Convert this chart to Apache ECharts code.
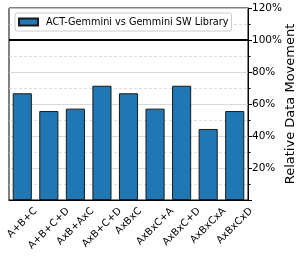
<!DOCTYPE html>
<html>
<head>
<meta charset="utf-8">
<script src="https://cdn.jsdelivr.net/npm/echarts@6/dist/echarts.min.js"></script>
<style>html,body{margin:0;padding:0;background:#fff;}#c{width:301px;height:258px;}</style>
</head>
<body>
<div id="c"></div>
<script>
const categories = ['A+B+C','A+B+C+D','AxB+AxC','AxB+C+D','AxBxC','AxBxC+A','AxBxC+D','AxBxCxA','AxBxCxD'];
const seriesName = 'ACT-Gemmini vs Gemmini SW Library';
const values = [66.7, 55.6, 57.1, 71.4, 66.7, 57.1, 71.4, 44.4, 55.6];
const refValue = 100;
const yTicks = [0, 20, 40, 60, 80, 100, 120];

const font = 'DejaVu Sans';
const xFontSize = 10;
const xMargin = 2;
const xLineHeight = 10;
// Centre each 45°-rotated label under its tick (matplotlib-style), top of text ~7px below the axis.
const ctx = document.createElement('canvas').getContext('2d');
ctx.font = xFontSize + 'px "' + font + '"';
const xData = categories.map(c => {
  const L = ctx.measureText(c).width;
  const D = 7 + 0.3535 * (L + 0.73 * xFontSize) - xMargin;
  const t = Math.max(0, 0.7071 * D - xLineHeight / 2);
  const r = 1.4142 * D;
  return {value: c, textStyle: {align: 'center', verticalAlign: 'top', lineHeight: xLineHeight, padding: [t, r, 0, 0]}};
});

const chart = echarts.init(document.getElementById('c'), null, {renderer: 'canvas'});
chart.setOption({
  animation: false,
  textStyle: {fontFamily: font},
  grid: {left: 9, right: 53, top: 8, bottom: 58, outerBoundsMode: 'none', containLabel: false, show: true, borderColor: '#000', borderWidth: 1, backgroundColor: 'transparent'},
  legend: {
    data: [seriesName], left: 15, top: 13, icon: 'rect', itemWidth: 19, itemHeight: 7,
    padding: [4, 3, 4, 3], borderColor: '#ccc', borderWidth: 1, borderRadius: 2, backgroundColor: '#fff',
    textStyle: {fontFamily: font, fontSize: 9.7, color: '#000', padding: [0, 0, 0, 3]}
  },
  xAxis: {
    type: 'category', data: xData,
    axisLine: {lineStyle: {color: '#000', width: 1}},
    axisTick: {alignWithLabel: true, length: 4, lineStyle: {color: '#000'}},
    axisLabel: {rotate: 45, fontSize: xFontSize, color: '#000',
      fontFamily: font, margin: xMargin, interval: 0, hideOverlap: false}
  },
  yAxis: {
    type: 'value', position: 'right', min: yTicks[0], max: yTicks[yTicks.length - 1], interval: 20,
    name: 'Relative Data Movement', nameLocation: 'middle', nameRotate: 90, nameGap: 43, nameMoveOverlap: false,
    nameTextStyle: {fontSize: 13, color: '#000', fontFamily: font, align: 'center', verticalAlign: 'middle'},
    axisLine: {show: true, lineStyle: {color: '#000', width: 1}},
    axisTick: {show: true, length: 4, lineStyle: {color: '#000'}},
    minorTick: {show: true, splitNumber: 2, length: 2.5, lineStyle: {color: '#000'}},
    splitLine: {show: true, lineStyle: {color: '#cfcfcf', width: 0.8}},
    minorSplitLine: {show: true, lineStyle: {color: '#d6d6d6', type: [3, 2], width: 0.8}},
    axisLabel: {fontSize: 10.5, color: '#000', fontFamily: font, margin: 4,
      formatter: v => v === 0 ? '' : v + '%'}
  },
  series: [{
    name: seriesName, type: 'bar', data: values, barWidth: '72%',
    itemStyle: {color: '#1f77b4', borderColor: '#1a1a1a', borderWidth: 1},
    markLine: {
      silent: true, symbol: 'none', label: {show: false},
      lineStyle: {color: '#000', width: 2, type: 'solid'},
      data: [{yAxis: refValue}]
    }
  }]
});
</script>
</body>
</html>
